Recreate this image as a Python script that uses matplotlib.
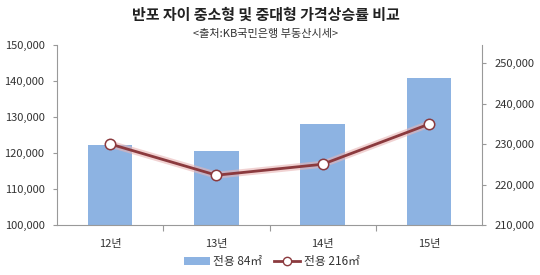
import matplotlib
matplotlib.use("Agg")
import matplotlib.pyplot as plt
from matplotlib.ticker import FuncFormatter
from matplotlib.patches import Patch
from matplotlib.lines import Line2D

plt.rcParams['font.family'] = ['Noto Sans CJK KR', 'DejaVu Sans']

categories = ["12년", "13년", "14년", "15년"]
small_values = [122200, 120600, 128000, 140700]      # 전용 84㎡ (left axis)
large_values = [230000, 222300, 225000, 234900]      # 전용 216㎡ (right axis)
left_ticks = [100000, 110000, 120000, 130000, 140000, 150000]
right_ticks = [210000, 220000, 230000, 240000, 250000]

bar_color = "#8DB3E2"
line_color = "#8B3A3E"
axis_color = "#999999"
text_color = "#333333"

fig = plt.figure(figsize=(5.4, 2.75), dpi=100)
ax = fig.add_axes([0.1056, 0.1818, 0.787, 0.6545])
ax2 = ax.twinx()

x = list(range(len(categories)))
ax.bar(x, small_values, width=0.42, color=bar_color, zorder=2)
ax.set_ylim(100000, 150000)
ax.set_yticks(left_ticks)
ax.set_xlim(-0.5, 3.5)

fmt = FuncFormatter(lambda v, p: f"{int(v):,}")
ax.yaxis.set_major_formatter(fmt)
ax2.yaxis.set_major_formatter(fmt)

# line with glow
ax2.plot(x, large_values, color="#E8B4B4", lw=5, alpha=0.6, zorder=3)
ax2.plot(x, large_values, color=line_color, lw=2, marker='o', markersize=7.5,
         markerfacecolor='white', markeredgecolor=line_color, markeredgewidth=1.1, zorder=4)
ax2.set_ylim(210000, 254444)
ax2.set_yticks(right_ticks)

for a in (ax, ax2):
    a.spines['top'].set_visible(False)
    for s in ('left', 'right', 'bottom'):
        a.spines[s].set_color(axis_color)
        a.spines[s].set_linewidth(0.8)
    a.tick_params(axis='y', colors=axis_color, labelcolor=text_color, labelsize=8, length=3, width=0.8)
ax.spines['right'].set_visible(False)
ax2.spines['left'].set_visible(False)
ax2.spines['bottom'].set_visible(False)
ax.tick_params(axis='y', pad=6)
ax2.tick_params(axis='y', pad=6)

ax.set_xticks(x)
ax.set_xticklabels(categories)
ax.tick_params(axis='x', length=0, pad=10, labelsize=8, labelcolor=text_color)
ax.set_xticks([0.5, 1.5, 2.5], minor=True)
ax.tick_params(axis='x', which='minor', length=4, color=axis_color, width=0.8)

fig.text(0.492, 0.945, "반포 자이 중소형 및 중대형 가격상승률 비교", ha='center', va='center',
         fontsize=10.8, fontweight='bold', color="#222222")
fig.text(0.492, 0.876, "<출처:KB국민은행 부동산시세>", ha='center', va='center',
         fontsize=8, color=text_color)

handles = [Patch(facecolor=bar_color, edgecolor='none'),
           Line2D([0], [0], color=line_color, lw=2, marker='o', markersize=6,
                  markerfacecolor='white', markeredgecolor=line_color)]
fig.legend(handles, ["전용 84㎡", "전용 216㎡"], loc='center', bbox_to_anchor=(0.503, 0.048),
           ncol=2, frameon=False, fontsize=8.5, handlelength=2.2, columnspacing=1.0,
           handletextpad=0.3, labelcolor=text_color)

fig.savefig("out.png", dpi=100)
